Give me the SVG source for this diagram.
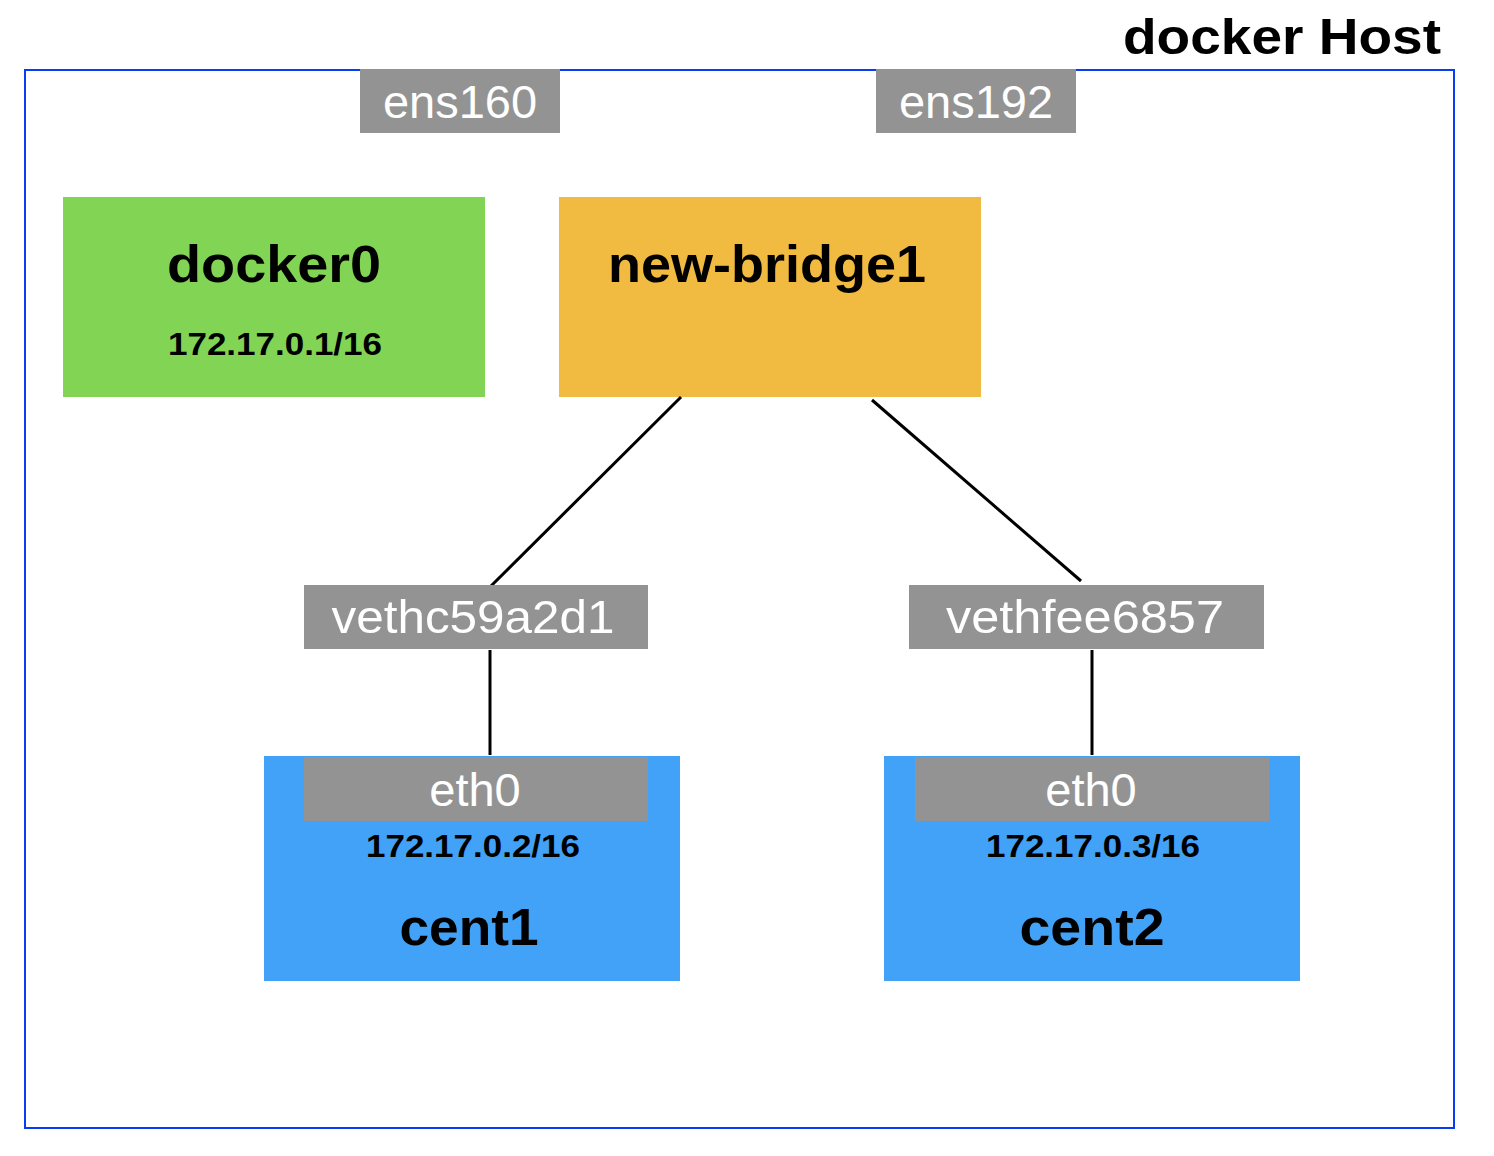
<svg xmlns="http://www.w3.org/2000/svg" width="1494" height="1156" viewBox="0 0 1494 1156">
<style>
.port{fill:#939393}
.pt{font-family:"Liberation Sans",Arial,sans-serif;font-size:47px;fill:#ffffff;text-anchor:middle}
.bt{font-family:"Liberation Sans",Arial,sans-serif;font-weight:bold;fill:#000000;text-anchor:middle}
.ln{stroke:#000000;stroke-width:3;fill:none}
</style>
<rect width="1494" height="1156" fill="#ffffff"/>
<g id="host">
<rect x="25" y="70" width="1429" height="1058" fill="none" stroke="#0a3cf5" stroke-width="2"/>
<text x="1441" y="54" class="bt" style="text-anchor:end;font-size:50px" textLength="318" lengthAdjust="spacingAndGlyphs">docker Host</text>
</g>
<g id="ens160">
<rect x="360" y="69" width="200" height="64" class="port"/>
<text x="460" y="118" class="pt">ens160</text>
</g>
<g id="ens192">
<rect x="876" y="69" width="200" height="64" class="port"/>
<text x="976" y="118" class="pt">ens192</text>
</g>
<g id="docker0">
<rect x="63" y="197" width="422" height="200" fill="#82d455"/>
<text x="274" y="282" class="bt" style="font-size:52px" textLength="214" lengthAdjust="spacingAndGlyphs">docker0</text>
<text x="275" y="355" class="bt" style="font-size:31px" textLength="214" lengthAdjust="spacingAndGlyphs">172.17.0.1/16</text>
</g>
<g id="new-bridge1">
<rect x="559" y="197" width="422" height="200" fill="#f1ba40"/>
<text x="767" y="282" class="bt" style="font-size:52px" textLength="318" lengthAdjust="spacingAndGlyphs">new-bridge1</text>
</g>
<g id="connectors">
<line x1="681" y1="397" x2="490" y2="587" class="ln"/>
<line x1="872" y1="400" x2="1081" y2="581" class="ln"/>
<line x1="490" y1="650" x2="490" y2="755" class="ln"/>
<line x1="1092" y1="650" x2="1092" y2="755" class="ln"/>
</g>
<g id="vethc59a2d1">
<rect x="304" y="585" width="344" height="64" class="port"/>
<text x="473" y="633" class="pt" textLength="283" lengthAdjust="spacingAndGlyphs">vethc59a2d1</text>
</g>
<g id="vethfee6857">
<rect x="909" y="585" width="355" height="64" class="port"/>
<text x="1085" y="633" class="pt" textLength="278" lengthAdjust="spacingAndGlyphs">vethfee6857</text>
</g>
<g id="cent1">
<rect x="264" y="756" width="416" height="225" fill="#42a2f8"/>
<rect x="304" y="757" width="344" height="64" class="port"/>
<text x="475" y="806" class="pt">eth0</text>
<text x="473" y="857" class="bt" style="font-size:31px" textLength="214" lengthAdjust="spacingAndGlyphs">172.17.0.2/16</text>
<text x="469" y="945" class="bt" style="font-size:52px" textLength="139" lengthAdjust="spacingAndGlyphs">cent1</text>
</g>
<g id="cent2">
<rect x="884" y="756" width="416" height="225" fill="#42a2f8"/>
<rect x="915" y="757" width="354" height="64" class="port"/>
<text x="1091" y="806" class="pt">eth0</text>
<text x="1093" y="857" class="bt" style="font-size:31px" textLength="214" lengthAdjust="spacingAndGlyphs">172.17.0.3/16</text>
<text x="1092" y="945" class="bt" style="font-size:52px" textLength="145" lengthAdjust="spacingAndGlyphs">cent2</text>
</g>
</svg>
